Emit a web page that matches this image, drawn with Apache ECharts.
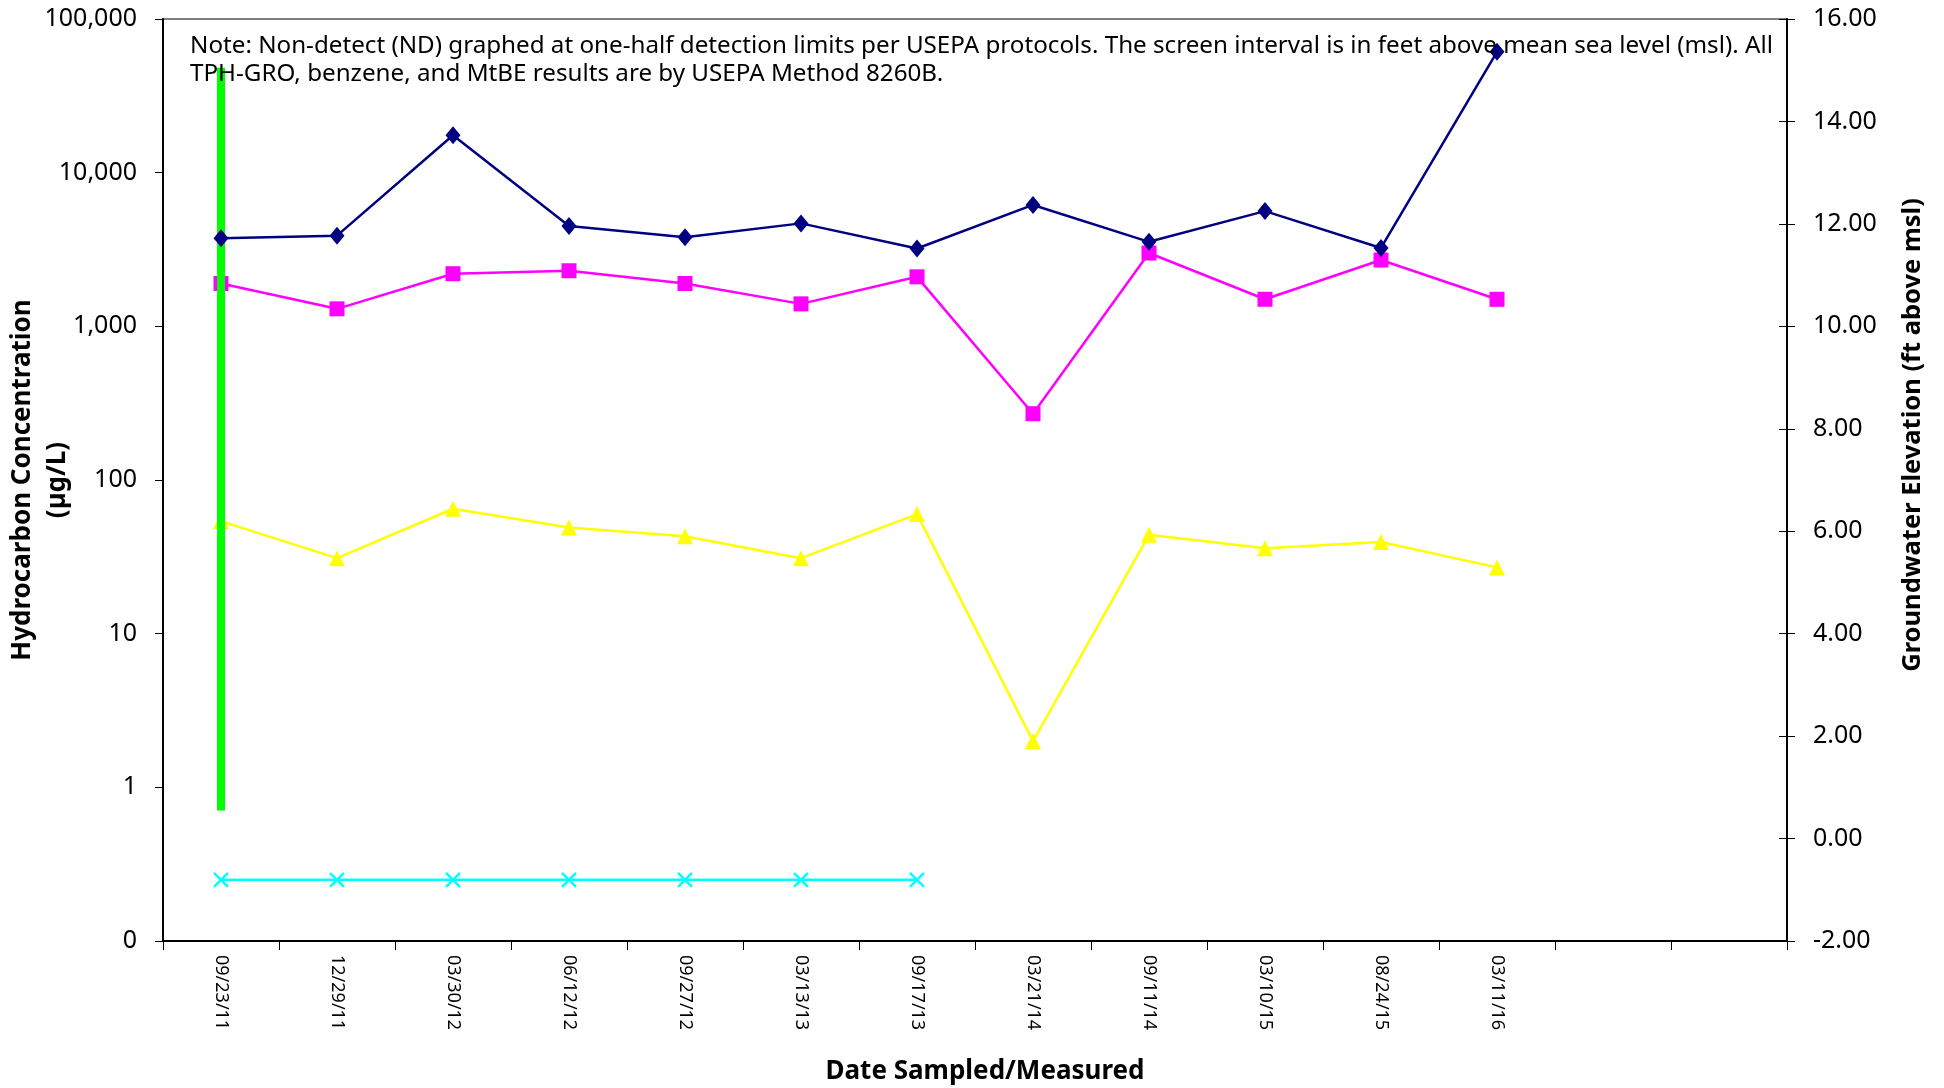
<!DOCTYPE html>
<html>
<head>
<meta charset="utf-8">
<script src="https://cdn.jsdelivr.net/npm/echarts@6/dist/echarts.min.js"></script>
<style>
html,body{margin:0;padding:0;background:#fff;}
#chart{width:1944px;height:1088px;}
</style>
</head>
<body>
<div id="chart"></div>
<script>
// Categories (two trailing empty slots as in the original axis)
const dates = ['09/23/11','12/29/11','03/30/12','06/12/12','09/27/12','03/13/13','09/17/13','03/21/14','09/11/14','03/10/15','08/24/15','03/11/16','',''];

// Groundwater elevation (ft above msl) - right axis
const gwElevation = [11.72, 11.77, 13.73, 11.96, 11.74, 12.01, 11.52, 12.37, 11.65, 12.25, 11.53, 15.36];
// TPH-GRO (ug/L) - left log axis
const tphGro = [1900, 1300, 2200, 2300, 1900, 1400, 2100, 270, 3000, 1500, 2700, 1500];
// Benzene (ug/L)
const benzene = [54, 31, 65, 49, 43, 31, 60, 2.0, 44, 36, 39.5, 27];
// MtBE (ug/L), ND at one-half detection limit
const mtbe = [0.25, 0.25, 0.25, 0.25, 0.25, 0.25, 0.25];
// Screen interval (ft above msl) at first date
const screenTop = 15.05;
const screenBottom = 0.55;

// Axis ranges
const leftMin = 0.1, leftMax = 100000;
const rightMin = -2, rightMax = 16, rightInterval = 2;

const FONT = 'Noto Sans';
const chart = echarts.init(document.getElementById('chart'), null, {renderer: 'canvas'});

function fmtLog(v) {
  return Math.round(v).toLocaleString('en-US');
}

const option = {
  backgroundColor: '#ffffff',
  animation: false,
  title: {
    text: 'Note: Non-detect (ND) graphed at one-half detection limits per USEPA protocols. The screen interval is in feet above mean sea level (msl). All\nTPH-GRO, benzene, and MtBE results are by USEPA Method 8260B.',
    left: 185,
    top: 27,
    textStyle: {fontFamily: FONT, fontSize: 24.2, fontWeight: 'normal', color: '#000', lineHeight: 28}
  },
  grid: {left: 163, right: 157, top: 19, bottom: 147, show: true, borderColor: '#808080', borderWidth: 2,
    containLabel: false, outerBoundsMode: 'none'},
  xAxis: {
    type: 'category',
    data: dates,
    boundaryGap: true,
    name: 'Date Sampled/Measured',
    nameLocation: 'middle',
    nameGap: 118,
    nameMoveOverlap: false,
    nameTextStyle: {fontFamily: FONT, fontSize: 26, fontWeight: 'bold', color: '#000', padding: [0, 0, 0, 20]},
    axisLine: {show: true, onZero: false, lineStyle: {color: '#000', width: 2}},
    axisTick: {show: true, interval: 0, length: 9, lineStyle: {color: '#000', width: 1}},
    axisLabel: {interval: 0, rotate: -90, margin: 14, fontFamily: FONT, fontSize: 18, color: '#000'},
    splitLine: {show: false}
  },
  yAxis: [
    {
      type: 'log',
      logBase: 10,
      min: leftMin,
      max: leftMax,
      position: 'left',
      name: 'Hydrocarbon Concentration\n(µg/L)',
      nameLocation: 'middle',
      nameRotate: 90,
      nameGap: 88,
      nameMoveOverlap: false,
      nameTextStyle: {fontFamily: FONT, fontSize: 26, fontWeight: 'bold', color: '#000', lineHeight: 35},
      axisLine: {show: true, onZero: false, lineStyle: {color: '#000', width: 2}},
      axisTick: {show: true, length: 8, lineStyle: {color: '#000'}},
      axisLabel: {fontFamily: FONT, fontSize: 25, color: '#000', margin: 26,
        formatter: function (v) { return fmtLog(v); }},
      splitLine: {show: false}
    },
    {
      type: 'value',
      min: rightMin,
      max: rightMax,
      interval: rightInterval,
      position: 'right',
      name: 'Groundwater Elevation (ft above msl)',
      nameLocation: 'middle',
      nameRotate: 90,
      nameGap: 113,
      nameMoveOverlap: false,
      nameTextStyle: {fontFamily: FONT, fontSize: 25.5, fontWeight: 'bold', color: '#000', padding: [0, 0, 0, 90]},
      axisLine: {show: true, onZero: false, lineStyle: {color: '#000', width: 2}},
      axisTick: {show: true, length: 8, lineStyle: {color: '#000'}},
      axisLabel: {fontFamily: FONT, fontSize: 25, color: '#000', margin: 26,
        formatter: function (v) { return v.toFixed(2); }},
      splitLine: {show: false}
    },
    {
      // inner half of the crossing tick marks on the right axis
      type: 'value',
      min: rightMin,
      max: rightMax,
      interval: rightInterval,
      position: 'right',
      axisLine: {show: false, onZero: false},
      axisTick: {show: true, inside: true, length: 8, lineStyle: {color: '#000'}},
      axisLabel: {show: false},
      splitLine: {show: false}
    }
  ],
  series: [
    {
      name: 'Screen Interval',
      type: 'line',
      yAxisIndex: 1,
      data: [[0, screenTop], [0, screenBottom]],
      showSymbol: false,
      symbol: 'none',
      lineStyle: {color: '#00ff00', width: 8, cap: 'butt'},
      z: 3
    },
    {
      name: 'Benzene',
      type: 'line',
      yAxisIndex: 0,
      data: benzene,
      symbol: 'triangle',
      symbolSize: 16,
      lineStyle: {color: '#ffff00', width: 2.5},
      itemStyle: {color: '#ffff00'},
      z: 2
    },
    {
      name: 'MtBE',
      type: 'line',
      yAxisIndex: 0,
      data: mtbe,
      symbol: 'path://M0,0 L10,10 M10,0 L0,10',
      symbolSize: 14,
      lineStyle: {color: '#00ffff', width: 2.5},
      itemStyle: {color: 'rgba(0,0,0,0)', borderColor: '#00ffff', borderWidth: 2.5},
      z: 2
    },
    {
      name: 'TPH-GRO',
      type: 'line',
      yAxisIndex: 0,
      data: tphGro,
      symbol: 'rect',
      symbolSize: 15,
      lineStyle: {color: '#ff00ff', width: 2.5},
      itemStyle: {color: '#ff00ff'},
      z: 2
    },
    {
      name: 'Groundwater Elevation',
      type: 'line',
      yAxisIndex: 1,
      data: gwElevation,
      symbol: 'diamond',
      symbolSize: [15, 18],
      lineStyle: {color: '#000080', width: 2.5},
      itemStyle: {color: '#000080'},
      z: 4
    }
  ]
};
chart.setOption(option);
</script>
</body>
</html>
